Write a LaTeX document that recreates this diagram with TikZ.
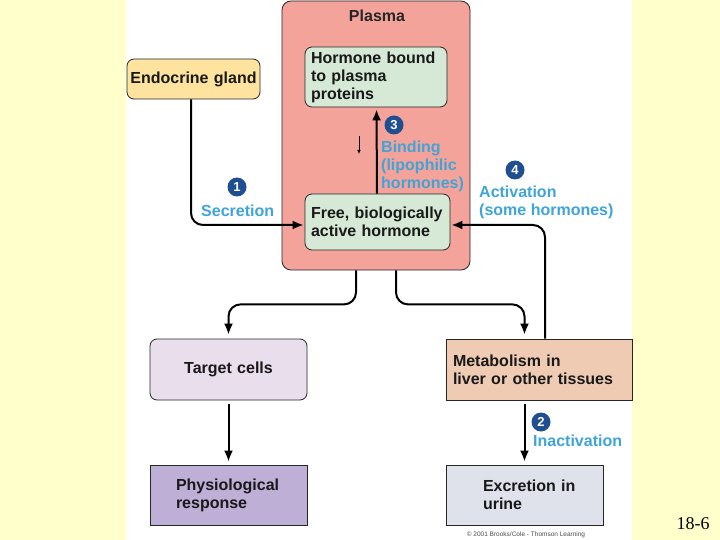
\documentclass[tikz,border=0pt]{standalone}
\usepackage{fontspec}
\setmainfont{Liberation Sans}
\newfontfamily\serifnum{Liberation Serif}
\usetikzlibrary{arrows.meta,positioning}
\definecolor{bgyellow}{HTML}{FFFFCC}
\definecolor{plasmafill}{HTML}{F4A39B}
\definecolor{greenbox}{HTML}{D6E9D7}
\definecolor{glandfill}{HTML}{FDE39D}
\definecolor{targetfill}{HTML}{E8DEEC}
\definecolor{metabfill}{HTML}{EFCBB4}
\definecolor{physfill}{HTML}{BDAFD5}
\definecolor{excrfill}{HTML}{DFE2EA}
\definecolor{lblblue}{HTML}{3FA4D8}
\definecolor{numblue}{HTML}{1F4F91}
\newcommand\mylblfont{\fontsize{16}{18}\selectfont\bfseries}
\tikzset{
  box/.style={draw=black!85, line width=0.8pt, inner ysep=0pt, font=\mylblfont, text=black!90},
  rbox/.style={box, rounded corners=7pt},
  conn/.style={line width=2pt, rounded corners=12pt, -{Latex[length=11pt,width=9pt]}},
  num/.style={circle, fill=numblue, text=white, inner sep=0pt, minimum size=19pt,
     font=\fontsize{13}{13}\selectfont\bfseries},
  lbl/.style={text=lblblue, font=\mylblfont, align=left, inner sep=0pt, anchor=west},
}
\begin{document}
\begin{tikzpicture}[x=1pt,y=-1pt]
\useasboundingbox (0,0) rectangle (720,540);
\fill[bgyellow] (0,0) rectangle (720,540);
\fill[white] (126,0) rectangle (632,540);

% plasma compartment
\node[rbox, fill=plasmafill, minimum width=188pt, minimum height=269pt, rounded corners=9pt] (plasma) at (376,135.5) {};
\node[font=\mylblfont, text=black!85, inner sep=0pt] (plasmalbl) at (377,16) {Plasma};

\node[rbox, fill=greenbox, minimum width=142pt, minimum height=60pt, inner xsep=6pt, text width=130pt, align=left] (bound) at (376,77) {Hormone bound\\to plasma\\proteins};
\node[rbox, fill=greenbox, minimum width=145pt, minimum height=56pt, inner xsep=6pt, text width=133pt, align=left] (free) at (377.5,222) {Free, biologically\\active hormone};

\node[rbox, fill=glandfill, minimum width=133pt, minimum height=40pt, inner xsep=1pt, text width=131pt, align=center] (gland) at (193.5,79) {Endocrine gland};

\node[rbox, fill=targetfill, minimum width=157pt, minimum height=61pt, inner xsep=4pt, text width=149pt, align=center] (target) at (228.5,369.5) {Target cells};
\node[box, fill=metabfill, minimum width=186pt, minimum height=61pt, inner xsep=7pt, text width=172pt, align=left] (metab) at (539,369.5) {Metabolism in\\liver or other tissues};
\node[box, fill=physfill, minimum width=157pt, minimum height=60pt, inner xsep=7pt, text width=143pt, align=left] (phys) at (228.5,495) {\hspace*{19pt}Physiological\\\hspace*{19pt}response};
\node[box, fill=excrfill, minimum width=157pt, minimum height=60pt, inner xsep=7pt, text width=143pt, align=left] (excr) at (524.5,495) {\hspace*{30pt}Excretion in\\\hspace*{30pt}urine};

% connectors
\draw[conn] ([xshift=-2.5pt]gland.south) |- ([yshift=-3pt,xshift=-1pt]free.west);
\draw[conn] ([xshift=6pt]metab.north) |- ([yshift=-3pt,xshift=1pt]free.east);
\draw[conn, shorten >=2pt] ([xshift=-0.5pt]free.north) -- ([xshift=0.5pt]bound.south);
\coordinate (sa) at (359,136);
\coordinate (sb) at (359,154);
\draw[line width=0.7pt, -{Latex[length=4pt,width=3.5pt]}] (sa) -- (sb);
\draw[conn, shorten >=4pt] ([xshift=-20pt]plasma.south) -- ++(0,34) -| (target.north);
\draw[conn, shorten >=4pt] ([xshift=20pt]plasma.south) -- ++(0,34) -| (excr.north |- metab.north);
\draw[conn, shorten <=4pt, shorten >=3pt] (target.south) -- (phys.north);
\draw[conn, shorten <=4pt, shorten >=3pt] (excr.north |- metab.south) -- (excr.north);

% step numbers and labels
\node[num] (n1) at (237,187) {1};
\node[lbl] (secr) at (201,211) {Secretion};
\node[num] (n3) at (394,125) {3};
\node[lbl] (bind) at (381,166) {Binding\\(lipophilic\\hormones)};
\node[num] (n4) at (515,170) {4};
\node[lbl] (activ) at (479,202) {Activation\\(some hormones)};
\node[num] (n2) at (541,422) {2};
\node[lbl] (inact) at (533,441) {Inactivation};

\node[font=\fontsize{6.5}{7}\selectfont, text=black!70, inner sep=0pt] (copy) at (526,535) {\textcopyright\ 2001 Brooks/Cole - Thomson Learning};
\node[font=\serifnum\fontsize{18}{20}\selectfont, inner sep=0pt] (slide) at (693,524) {18-6};
\end{tikzpicture}
\end{document}
